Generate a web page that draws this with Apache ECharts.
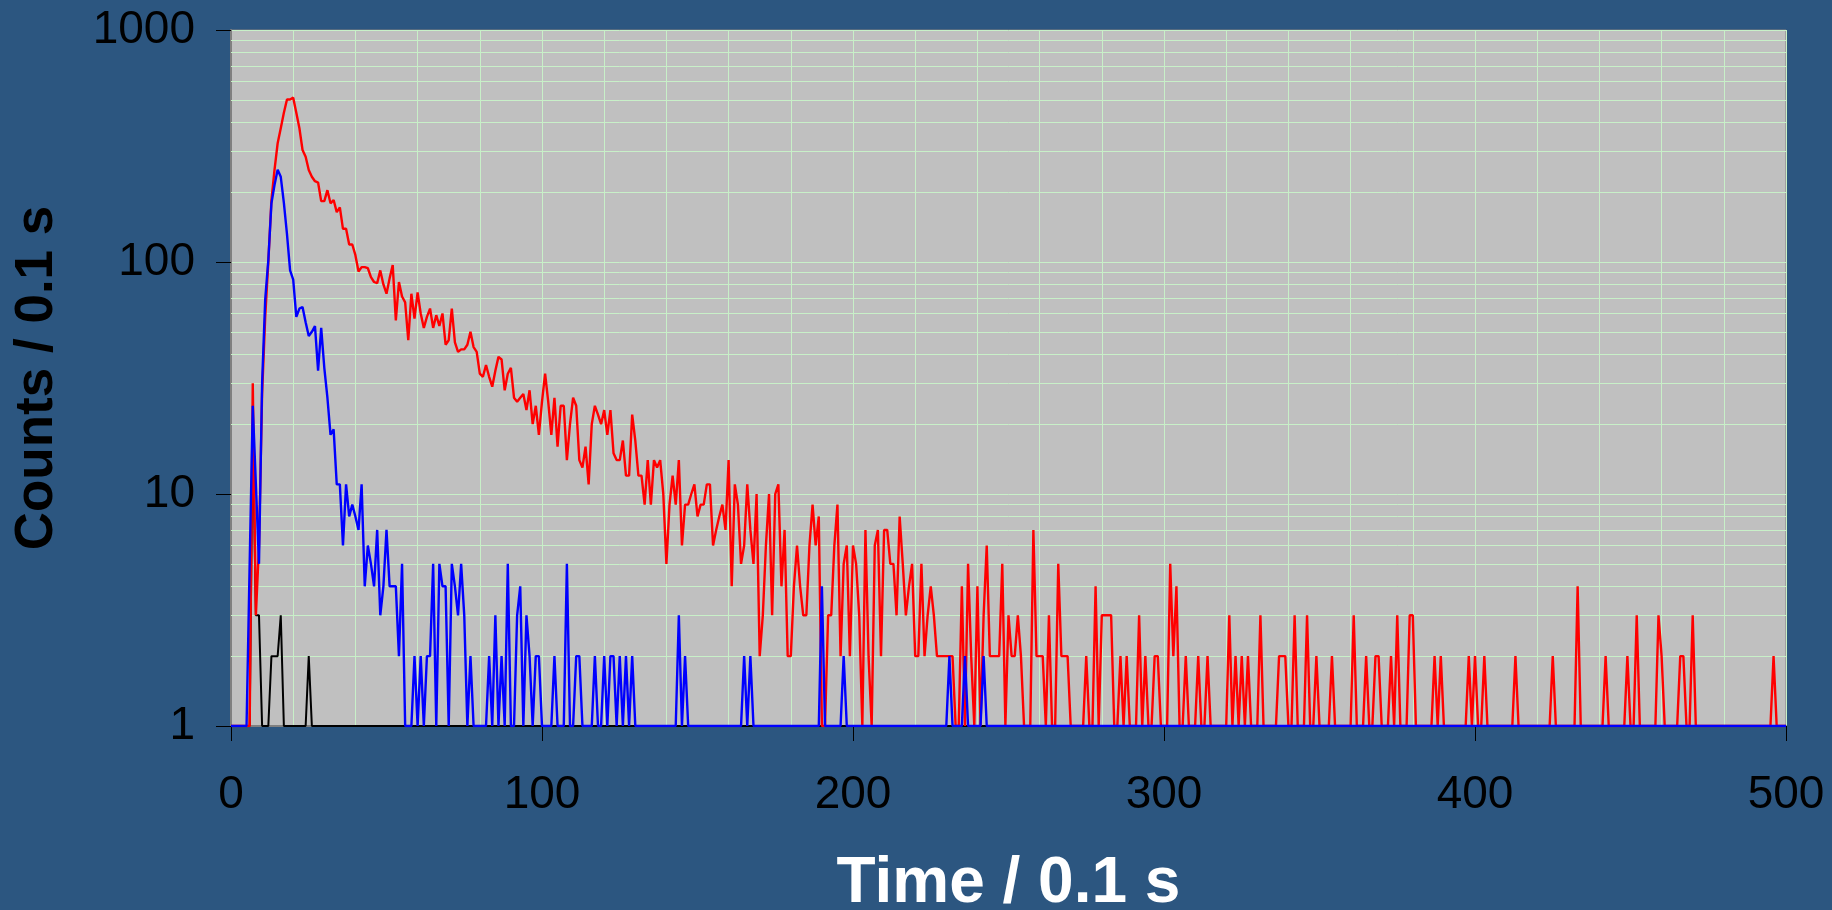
<!DOCTYPE html>
<html><head><meta charset="utf-8">
<script src="https://cdn.jsdelivr.net/npm/echarts@6/dist/echarts.min.js"></script>
<style>html,body{margin:0;padding:0;background:#2c5680;}#c{width:1832px;height:910px;}</style>
</head><body><div id="c"></div>
<script>
// x axis: time bin index 0..500 (0.1 s bins)
const xTicks = [0, 100, 200, 300, 400, 500];
const yTicks = [1, 10, 100, 1000];
const yMinorGrid = [2,3,4,5,6,7,8,9,20,30,40,50,60,70,80,90,200,300,400,500,600,700,800,900];

const red = [1,1,1,1,1,1,1,30,3,6,27,
58,100,185,250,325,377,440,502,502,511,
440,377,304,284,249,233,223,220,183,183,
204,179,185,164,172,139,139,119,119,107,
91,95,95,94,86,82,81,92,80,73,
85,97,56,82,71,67,46,73,57,74,
60,52,58,63,52,59,53,60,44,46,
63,45,41,42,42,44,50,43,41,33,
32,36,32,29,34,39,38,28,33,35,
26,25,26,27,23,28,20,24,18,25,
33,25,18,26,16,24,24,14,20,26,
24,14,13,16,11,20,24,22,20,23,
18,23,15,14,14,17,12,12,22,17,
12,12,9,14,9,14,13,14,10,5,
9,12,9,14,6,9,9,10,11,8,
9,9,11,11,6,7,8,9,7,14,
4,11,9,5,6,11,7,5,10,2,
3,6,10,3,10,11,4,7,2,2,
4,6,4,3,3,6,9,6,8,1,
1,3,3,6,9,2,5,6,2,6,
5,3,1,7,2,1,6,7,2,7,
7,5,5,3,8,5,3,4,5,2,
2,5,2,3,4,3,2,2,2,2,
2,2,1,1,4,1,5,2,1,4,
1,3,6,2,2,2,2,5,1,3,
2,2,3,2,1,1,1,7,2,2,
2,1,3,1,1,5,2,2,2,1,
1,1,1,1,2,1,1,4,1,3,
3,3,3,1,1,2,1,2,1,1,
1,3,1,2,1,1,2,2,1,1,
1,5,2,4,1,1,2,1,1,1,
2,1,1,2,1,1,1,1,1,1,
3,1,2,1,2,1,2,1,1,1,
3,1,1,1,1,1,2,2,2,1,
1,3,1,1,1,3,1,1,2,1,
1,1,1,2,1,1,1,1,1,1,
3,1,1,1,2,1,1,2,2,1,
1,1,2,1,3,1,1,1,3,3,
1,1,1,1,1,1,2,1,2,1,
1,1,1,1,1,1,1,2,1,2,
1,1,2,1,1,1,1,1,1,1,
1,1,2,1,1,1,1,1,1,1,
1,1,1,1,2,1,1,1,1,1,
1,1,4,1,1,1,1,1,1,1,
1,2,1,1,1,1,1,1,2,1,
1,3,1,1,1,1,1,1,3,2,
1,1,1,1,1,2,2,1,1,3,
1,1,1,1,1,1,1,1,1,1,
1,1,1,1,1,1,1,1,1,1,
1,1,1,1,1,2,1,1,1,1];

const blue = [1,1,1,1,1,1,5,24,11,5,30,
69,102,179,215,250,233,180,132,92,84,
58,63,64,55,48,50,53,34,52,35,
26,18,19,11,11,6,11,8,9,8,
7,11,4,6,5,4,7,3,4,7,
4,4,4,2,5,1,1,1,2,1,
2,1,2,2,5,1,5,4,4,1,
5,4,3,5,3,1,2,1,1,1,
1,1,2,1,3,1,2,1,5,1,
1,3,4,1,3,2,1,2,2,1,
1,1,1,2,1,1,1,5,1,1,
2,2,1,1,1,1,2,1,1,2,
1,2,2,1,2,1,2,1,2,1,
1,1,1,1,1,1,1,1,1,1,
1,1,1,3,1,2,1,1,1,1,
1,1,1,1,1,1,1,1,1,1,
1,1,1,1,2,1,2,1,1,1,
1,1,1,1,1,1,1,1,1,1,
1,1,1,1,1,1,1,1,1,4,
1,1,1,1,1,1,2,1,1,1,
1,1,1,1,1,1,1,1,1,1,
1,1,1,1,1,1,1,1,1,1,
1,1,1,1,1,1,1,1,1,1,
2,1,1,1,1,2,1,1,1,1,
1,2,1,1,1,1,1,1,1,1,
1,1,1,1,1,1,1,1,1,1,
1,1,1,1,1,1,1,1,1,1,
1,1,1,1,1,1,1,1,1,1,
1,1,1,1,1,1,1,1,1,1,
1,1,1,1,1,1,1,1,1,1,
1,1,1,1,1,1,1,1,1,1,
1,1,1,1,1,1,1,1,1,1,
1,1,1,1,1,1,1,1,1,1,
1,1,1,1,1,1,1,1,1,1,
1,1,1,1,1,1,1,1,1,1,
1,1,1,1,1,1,1,1,1,1,
1,1,1,1,1,1,1,1,1,1,
1,1,1,1,1,1,1,1,1,1,
1,1,1,1,1,1,1,1,1,1,
1,1,1,1,1,1,1,1,1,1,
1,1,1,1,1,1,1,1,1,1,
1,1,1,1,1,1,1,1,1,1,
1,1,1,1,1,1,1,1,1,1,
1,1,1,1,1,1,1,1,1,1,
1,1,1,1,1,1,1,1,1,1,
1,1,1,1,1,1,1,1,1,1,
1,1,1,1,1,1,1,1,1,1,
1,1,1,1,1,1,1,1,1,1,
1,1,1,1,1,1,1,1,1,1,
1,1,1,1,1,1,1,1,1,1];

const black = [1,1,1,1,1,1,1,20,3,3,1,
1,1,2,2,2,3,1,1,1,1,
1,1,1,1,2,1,1,1,1,1,
1,1,1,1,1,1,1,1,1,1,
1,1,1,1,1,1,1,1,1,1,
1,1,1,1,1,1,1,1,1,1,
1,1,1,1,1,1,1,1,1,1,
1,1,1,1,1,1,1,1,1,1,
1,1,1,1,1,1,1,1,1,1,
1,1,1,1,1,1,1,1,1,1,
1,1,1,1,1,1,1,1,1,1,
1,1,1,1,1,1,1,1,1,1,
1,1,1,1,1,1,1,1,1,1,
1,1,1,1,1,1,1,1,1,1,
1,1,1,1,1,1,1,1,1,1,
1,1,1,1,1,1,1,1,1,1,
1,1,1,1,1,1,1,1,1,1,
1,1,1,1,1,1,1,1,1,1,
1,1,1,1,1,1,1,1,1,1,
1,1,1,1,1,1,1,1,1,1,
1,1,1,1,1,1,1,1,1,1,
1,1,1,1,1,1,1,1,1,1,
1,1,1,1,1,1,1,1,1,1,
1,1,1,1,1,1,1,1,1,1,
1,1,1,1,1,1,1,1,1,1,
1,1,1,1,1,1,1,1,1,1,
1,1,1,1,1,1,1,1,1,1,
1,1,1,1,1,1,1,1,1,1,
1,1,1,1,1,1,1,1,1,1,
1,1,1,1,1,1,1,1,1,1,
1,1,1,1,1,1,1,1,1,1,
1,1,1,1,1,1,1,1,1,1,
1,1,1,1,1,1,1,1,1,1,
1,1,1,1,1,1,1,1,1,1,
1,1,1,1,1,1,1,1,1,1,
1,1,1,1,1,1,1,1,1,1,
1,1,1,1,1,1,1,1,1,1,
1,1,1,1,1,1,1,1,1,1,
1,1,1,1,1,1,1,1,1,1,
1,1,1,1,1,1,1,1,1,1,
1,1,1,1,1,1,1,1,1,1,
1,1,1,1,1,1,1,1,1,1,
1,1,1,1,1,1,1,1,1,1,
1,1,1,1,1,1,1,1,1,1,
1,1,1,1,1,1,1,1,1,1,
1,1,1,1,1,1,1,1,1,1,
1,1,1,1,1,1,1,1,1,1,
1,1,1,1,1,1,1,1,1,1,
1,1,1,1,1,1,1,1,1,1,
1,1,1,1,1,1,1,1,1,1];

const FONT = '"Liberation Sans", Arial, sans-serif';
const GRID_GREEN = '#c8f0c8';
const toXY = arr => arr.map((v, i) => [i, v]);

const chart = echarts.init(document.getElementById('c'), null, {renderer: 'canvas'});
chart.setOption({
  backgroundColor: '#2c5680',
  animation: false,
  textStyle: {fontFamily: FONT},
  grid: {left: 231, right: 46, top: 30, bottom: 184, show: true,
         backgroundColor: '#c0c0c0', borderColor: '#808080', borderWidth: 1,
         outerBoundsMode: 'none', containLabel: false},
  xAxis: {
    type: 'value', min: xTicks[0], max: xTicks[xTicks.length - 1], interval: 100,
    name: 'Time / 0.1 s', nameLocation: 'middle', nameGap: 126,
    nameTextStyle: {color: '#ffffff', fontSize: 64, fontWeight: 'bold', fontFamily: FONT},
    axisLine: {show: true, onZero: false, lineStyle: {color: '#808080', width: 2}},
    axisTick: {show: true, length: 15, lineStyle: {color: '#000', width: 1}},
    axisLabel: {fontSize: 46, color: '#000', margin: 46, fontFamily: FONT,
                formatter: v => String(v)},
    splitLine: {show: true, lineStyle: {color: GRID_GREEN, width: 1}},
    minorTick: {show: false, splitNumber: 5},
    minorSplitLine: {show: true, lineStyle: {color: GRID_GREEN, width: 1}}
  },
  yAxis: {
    type: 'log', logBase: 10, min: yTicks[0], max: yTicks[yTicks.length - 1],
    name: 'Counts / 0.1 s', nameLocation: 'middle', nameGap: 167, nameRotate: 90,
    nameTextStyle: {color: '#000', fontSize: 53, fontWeight: 'bold', fontFamily: FONT},
    axisLine: {show: true, lineStyle: {color: '#808080', width: 2}},
    axisTick: {show: true, length: 15, lineStyle: {color: '#000', width: 1}},
    axisLabel: {fontSize: 46, color: '#000', margin: 36, fontFamily: FONT,
                formatter: v => String(Math.round(v))},
    splitLine: {show: true, lineStyle: {color: GRID_GREEN, width: 1}}
  },
  series: [
    {type: 'line', name: 'black', data: toXY(black), symbol: 'none', showSymbol: false,
     lineStyle: {color: '#000000', width: 2}, itemStyle: {color: '#000000'}, z: 3,
     markLine: {silent: true, z: 1, symbol: ['none', 'none'], label: {show: false},
                emphasis: {disabled: true},
                lineStyle: {color: GRID_GREEN, type: 'solid', width: 1},
                data: yMinorGrid.map(v => ({yAxis: v}))}},
    {type: 'line', name: 'red', data: toXY(red), symbol: 'none', showSymbol: false,
     lineStyle: {color: '#ff0000', width: 2.4}, itemStyle: {color: '#ff0000'}, z: 4},
    {type: 'line', name: 'blue', data: toXY(blue), symbol: 'none', showSymbol: false,
     lineStyle: {color: '#0000ff', width: 2.4}, itemStyle: {color: '#0000ff'}, z: 5}
  ]
});
</script>
</body></html>
